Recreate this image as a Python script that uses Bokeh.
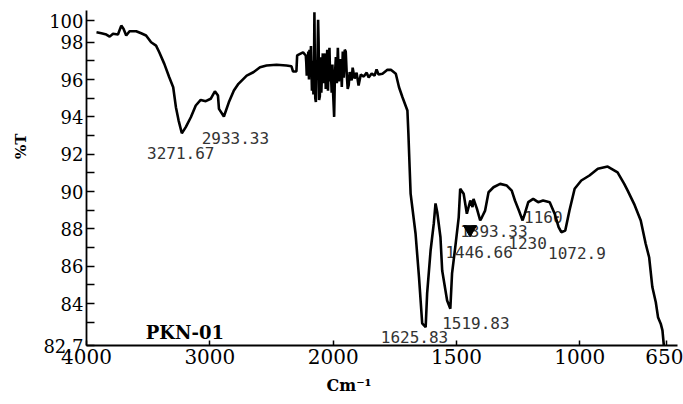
import numpy as np
from bokeh.plotting import figure
from bokeh.models import Range1d, FixedTicker, Title
from bokeh.core.properties import value
from bokeh.embed import file_html
from bokeh.resources import INLINE

# IR spectrum (wavenumber cm-1, %T)
wavenumber = [3919, 3879, 3839, 3812, 3785, 3745, 3718, 3700, 3678, 3651, 3597, 3557, 3517,
              3476, 3436, 3410, 3369, 3329, 3297, 3275, 3253, 3227, 3195, 3154, 3114, 3074,
              3033, 2993, 2959, 2934, 2926, 2886, 2846, 2805, 2768, 2701, 2647, 2593, 2540,
              2459, 2379, 2338, 2325, 2298, 2292, 2244, 2222,
              2218, 2214, 2210, 2206, 2202, 2196, 2192, 2186, 2180, 2172, 2166, 2160, 2155,
              2152, 2148, 2145, 2140, 2134, 2130, 2122, 2118, 2114, 2108, 2102, 2096, 2090,
              2084, 2078, 2072, 2066, 2060, 2054, 2048, 2042, 2036, 2030, 2024, 2018, 2012,
              2006, 2000, 1996, 1993, 1989, 1985, 1981, 1977, 1973, 1969, 1965, 1961, 1957,
              1953, 1949, 1945, 1941, 1937, 1933,
              1925, 1921, 1913, 1905, 1897, 1888, 1876, 1864, 1856, 1844, 1832, 1824, 1816,
              1800, 1780, 1766, 1746, 1733, 1719, 1699, 1695, 1690, 1686, 1666, 1652, 1639,
              1625, 1619, 1605, 1592, 1585, 1578, 1565, 1558, 1538, 1525, 1518, 1505, 1491,
              1485, 1471, 1458, 1444, 1435, 1431, 1417, 1404, 1397, 1384, 1370, 1350, 1323,
              1296, 1276, 1263, 1247, 1232, 1223, 1209, 1189, 1169, 1149, 1122, 1102, 1086,
              1075, 1059, 1042, 1021, 994, 961, 927, 887, 847, 820, 806, 780, 753, 733, 719,
              706, 692, 683, 672, 665, 659]
transmittance = [98.53, 98.48, 98.41, 98.30, 98.45, 98.41, 98.89, 98.72, 98.36, 98.59, 98.59,
                 98.48, 98.36, 98.00, 97.82, 97.46, 96.84, 96.12, 95.59, 94.52, 93.80, 93.12,
                 93.45, 93.98, 94.61, 94.91, 94.84, 94.97, 95.37, 95.14, 94.43, 94.02, 94.78,
                 95.41, 95.77, 96.21, 96.39, 96.66, 96.75, 96.79, 96.75, 96.71, 96.43, 96.43,
                 97.29, 97.46, 97.29,
                 96.9, 96.2, 97.3, 96.5, 97.5, 96.0, 97.6, 96.3, 97.8, 95.4, 97.0, 95.2, 96.8,
                 99.6, 96.5, 95.0, 94.8, 97.0, 96.0, 99.2, 98.0, 94.9, 95.1, 97.2, 95.3, 96.5,
                 97.4, 95.8, 96.8, 97.4, 95.5, 96.6, 97.6, 95.4, 96.9, 97.7, 95.9, 96.4, 95.3,
                 96.8, 95.2, 94.0, 96.2, 97.2, 95.8, 97.7, 95.9, 96.5, 97.1, 95.6, 97.5, 96.1,
                 97.6, 97.5, 96.3, 95.5, 95.7, 96.4,
                 95.95, 96.64, 96.05, 96.37, 95.68, 96.27, 96.16, 96.37, 96.11, 96.32, 96.21,
                 96.54, 96.27,
                 96.31, 96.52, 96.52, 96.31, 95.59, 95.05, 94.34, 93.11, 91.30, 89.89, 87.75,
                 85.41, 82.93, 82.73, 84.54, 86.84, 88.29, 89.36, 88.89, 87.55, 85.77, 84.16,
                 83.72, 85.61, 87.02, 88.62, 90.15, 89.88, 88.81, 89.52, 89.16, 89.61, 89.07,
                 88.45, 88.62, 88.98, 89.96, 90.23, 90.41, 90.32, 90.05, 89.52, 88.98, 88.45,
                 88.81, 89.43, 89.61, 89.43, 89.52, 89.43, 88.81, 88.09, 87.82, 87.91, 88.98,
                 90.15, 90.59, 90.86, 91.22, 91.34, 91.03, 90.41, 90.05, 89.34, 88.45, 87.20,
                 86.48, 84.88, 84.07, 83.27, 82.92, 82.56, 81.70]

peak_text = ["3271.67", "2933.33", "1625.83", "1519.83", "1393.33",
             "1446.66", "1230", "1160", "1072.9"]
peak_text_wn = [3509, 3066, 1807, 1558, 1485, 1545, 1290, 1226, 1129]
peak_text_t = [92.04, 92.89, 82.18, 82.93, 87.91, 86.76, 87.22, 88.62, 86.68]

marker_wn = [1445]
marker_t = [87.97]

x_tick_wn = [4000, 3000, 2000, 1500, 1000, 650]
x_tick_labels = ["4000", "3000", "2000", "1500", "1000", "650"]
y_tick_vals = [81.75, 84, 86, 88, 90, 92, 94, 96, 98, 99.16]
y_tick_labels = ["82.7", "84", "86", "88", "90", "92", "94", "96", "98", "100"]
y_minor_vals = [83, 85, 87, 89, 91, 93, 95, 97]

sample_name = "PKN-01"
sample_wn = 3519
sample_t = 82.45


def to_u(w):
    # IR chart scale: 4000-2000 compressed by 2 relative to 2000-650
    return np.interp(np.asarray(w, dtype=float), [650, 2000, 4000], [2350, 1000, 0])


p = figure(width=683, height=404, x_range=Range1d(0, 2396), y_range=Range1d(81.75, 99.70),
           output_backend="svg", toolbar_location=None,
           min_border_left=82, min_border_right=6, min_border_top=10, min_border_bottom=59)
p.grid.visible = False
p.outline_line_color = None
p.background_fill_color = "white"
p.border_fill_color = "white"

# peak labels (under the curve)
p.text(x=to_u(peak_text_wn), y=peak_text_t, text=peak_text,
       text_font=value("DejaVu Sans Mono"), text_font_size="16px",
       text_color="#333333", text_align="left", text_baseline="alphabetic")
p.text(x=to_u([sample_wn]), y=[sample_t], text=[sample_name],
       text_font=value("DejaVu Serif"), text_font_style="bold", text_font_size="18px",
       text_color="black", text_align="left", text_baseline="alphabetic")

p.line(to_u(wavenumber), transmittance, line_color="black", line_width=2.6)
p.scatter(to_u(marker_wn), marker_t, marker="inverted_triangle", size=13,
          fill_color="black", line_color="black")

xt = to_u(x_tick_wn)
p.xaxis.ticker = FixedTicker(ticks=[float(v) for v in xt])
p.xaxis.major_label_overrides = {float(v): s for v, s in zip(xt, x_tick_labels)}
p.yaxis.ticker = FixedTicker(ticks=y_tick_vals, minor_ticks=y_minor_vals)
p.yaxis.major_label_overrides = {float(v): s for v, s in zip(y_tick_vals, y_tick_labels)}

for ax in (p.xaxis[0], p.yaxis[0]):
    ax.axis_line_color = "black"
    ax.axis_line_width = 1.8
    ax.major_tick_line_color = "black"
    ax.major_tick_line_width = 1.5
    ax.minor_tick_line_color = "black"
    ax.minor_tick_line_width = 1.5
    ax.major_tick_out = 0
    ax.minor_tick_out = 0
    ax.major_label_text_font = "DejaVu Serif"
    ax.major_label_text_color = "black"

p.xaxis.major_tick_in = 5
p.xaxis.minor_tick_in = 0
p.xaxis.major_label_text_font_size = "20px"
p.xaxis.major_label_standoff = 3
p.yaxis.major_tick_in = 8
p.yaxis.minor_tick_in = 8
p.yaxis.major_label_text_font_size = "18px"
p.yaxis.major_label_standoff = 3

p.add_layout(Title(text="%T", align="right", offset=123, vertical_align="middle",
                   standoff=20, text_font="DejaVu Serif", text_font_style="bold",
                   text_font_size="15px", text_color="black"), "left")
p.add_layout(Title(text="Cm\u207b\u00b9", align="left", offset=240, vertical_align="bottom",
                   standoff=14, text_font="DejaVu Serif", text_font_style="bold",
                   text_font_size="16px", text_color="black"), "below")

open("out.html", "w").write(file_html(p, INLINE))
